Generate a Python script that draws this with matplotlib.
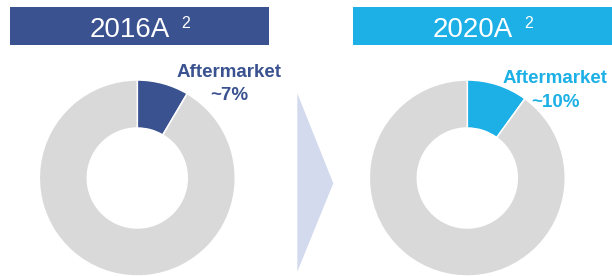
import matplotlib
matplotlib.use("Agg")
import matplotlib.pyplot as plt
from matplotlib.patches import Rectangle, Polygon

plt.rcParams['font.family'] = ['Liberation Sans', 'DejaVu Sans']

# Data
years = ["2016A", "2020A"]
footnote = "2"
aftermarket_share = [8.5, 10.0]          # drawn share of the wedge (%)
share_labels = ["~7%", "~10%"]
segment_label = "Aftermarket"
colors = ["#3A5290", "#1CB0E6"]
rest_color = "#D9D9D9"
arrow_color = "#D3DAEE"

W, H = 612, 276
fig = plt.figure(figsize=(W / 100, H / 100), dpi=100)

bg = fig.add_axes([0, 0, 1, 1])
bg.set_xlim(0, W)
bg.set_ylim(H, 0)
bg.axis("off")

# layout (pixels)
box_x = [10, 353]
box_w = 259
box_y, box_h = 7, 38
centers_x = [137.3, 467.3]
center_y = 178
r_out = 98
label_pos = [(229.5, 76.7, 100.0), (555.5, 83.4, 106.7)]

for i in range(2):
    bg.add_patch(Rectangle((box_x[i], box_y), box_w, box_h, facecolor=colors[i], edgecolor="none"))
    cx = box_x[i] + box_w / 2
    bg.text(cx - 10, 37, years[i], color="white", fontsize=20, ha="center", va="baseline")
    bg.text(cx + 41.5, 28.5, footnote, color="white", fontsize=11.5, ha="left", va="baseline")

    # donut
    ax = fig.add_axes([(centers_x[i] - r_out) / W, (H - center_y - r_out) / H,
                       2 * r_out / W, 2 * r_out / H])
    ax.pie([aftermarket_share[i], 100 - aftermarket_share[i]],
           colors=[colors[i], rest_color], startangle=90, counterclock=False,
           radius=1, wedgeprops=dict(width=0.49, edgecolor="white", linewidth=1.1))
    ax.set_xlim(-1, 1)
    ax.set_ylim(-1, 1)
    ax.set_aspect("equal")
    ax.axis("off")

    lx, ly1, ly2 = label_pos[i]
    bg.text(lx, ly1, segment_label, color=colors[i], fontsize=13.5, fontweight="bold",
            ha="center", va="baseline", zorder=5)
    bg.text(lx, ly2, share_labels[i], color=colors[i], fontsize=13.5, fontweight="bold",
            ha="center", va="baseline", zorder=5)

# arrow
bg.add_patch(Polygon([(297.3, 93.3), (333.3, 183.3), (297.3, 271.7)], closed=True,
                     facecolor=arrow_color, edgecolor="none"))

fig.savefig("out.png", dpi=100)
